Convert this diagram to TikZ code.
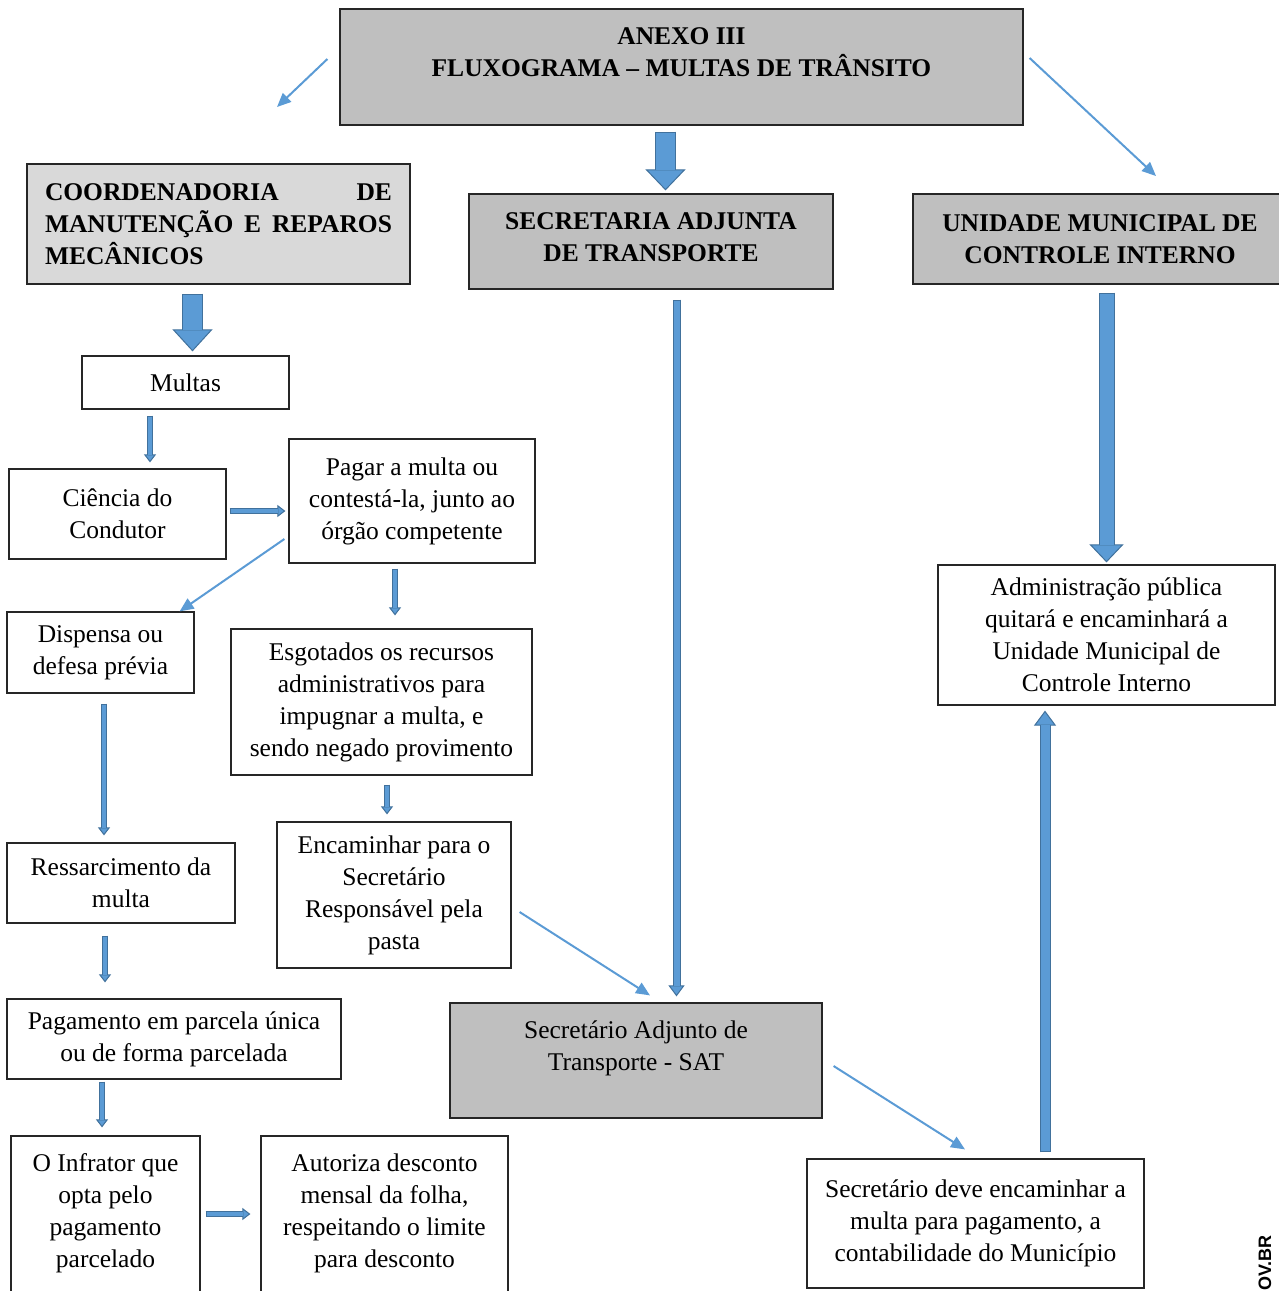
\documentclass[tikz,border=0pt]{standalone}
\usepackage{fontspec}
\setmainfont{Liberation Serif}
\newfontfamily\stampfont{Liberation Sans}
\usepackage{tikz}
\usetikzlibrary{arrows.meta, positioning, calc}
\definecolor{boxGray}{RGB}{191, 191, 191}
\definecolor{lightGray}{RGB}{217, 217, 217}
\definecolor{arrowFill}{RGB}{91, 155, 213}
\definecolor{arrowEdge}{RGB}{65, 113, 156}
\definecolor{lineBlue}{RGB}{91, 155, 213}
\newcommand{\bodyfont}{\fontsize{25.5pt}{32pt}\selectfont}

\begin{document}
\begin{tikzpicture}[x=1pt, y=-1pt,
    box/.style={draw=black!85, line width=1.2pt, fill=white, align=center, inner sep=0pt, font=\bodyfont},
    gray_box/.style={box, fill=boxGray, font=\bfseries\bodyfont},
    flow_arrow/.style n args={3}{draw=arrowEdge, line width=#1, -{Triangle[length=#3, width=#2, fill=arrowFill, color=arrowEdge, line width=1pt]}, postaction={draw=arrowFill, line width=#1-2pt, -, shorten >=#3-1pt, shorten <=1pt}},
    thin_arrow/.style={draw=lineBlue, line width=2pt, -{Triangle[length=14pt, width=12pt]}}
]
    \useasboundingbox (0, 0) rectangle (1279, 1291);

    % Header and the three departments
    \node[gray_box, minimum width=683, minimum height=116] (title) at (681.5, 67) {ANEXO III\\FLUXOGRAMA – MULTAS DE TRÂNSITO\\[-12pt]\strut};
    \node[gray_box, fill=lightGray, minimum width=383, minimum height=120, text width=347pt, align=left] (coord) at (218.5, 224) {\makebox[347pt][s]{COORDENADORIA\hfill DE}\\\makebox[347pt][s]{MANUTENÇÃO\hfill E\hfill REPAROS}\\MECÂNICOS};
    \node[gray_box, minimum width=364, minimum height=95] (secr) at (651, 241.5) {SECRETARIA ADJUNTA\\DE TRANSPORTE\\[-32pt]\strut};
    \node[gray_box, minimum width=374, minimum height=90] (unid) at (1100, 239) {UNIDADE MUNICIPAL DE\\CONTROLE INTERNO};

    % Left column (Coordenadoria)
    \node[box, minimum width=207, minimum height=53] (multas) at (185.5, 382.5) {Multas};
    \node[box, minimum width=217, minimum height=90] (ciencia) at (117.5, 514) {Ciência do\\Condutor};
    \node[box, minimum width=246, minimum height=124] (pagar) at (412, 501) {Pagar a multa ou\\contestá-la, junto ao\\órgão competente};
    \node[box, minimum width=187, minimum height=81] (dispensa) at (100.5, 652.5) {Dispensa ou\\defesa prévia};
    \node[box, minimum width=301, minimum height=146] (esgot) at (381.5, 702) {Esgotados os recursos\\administrativos para\\impugnar a multa, e\\sendo negado provimento};
    \node[box, minimum width=234, minimum height=146] (encam) at (394, 895) {Encaminhar para o\\Secretário\\Responsável pela\\pasta};
    \node[box, minimum width=228, minimum height=80] (ressarc) at (121, 883) {Ressarcimento da\\multa};
    \node[box, minimum width=334, minimum height=80] (pagam) at (174, 1039) {Pagamento em parcela única\\ou de forma parcelada};
    \node[box, minimum width=189, minimum height=181] (infrator) at (105.5, 1226.5) {O Infrator que\\opta pelo\\pagamento\\parcelado\\[-10pt]\strut};
    \node[box, minimum width=247, minimum height=181] (autoriza) at (384.5, 1226.5) {Autoriza desconto\\mensal da folha,\\respeitando o limite\\para desconto\\[-10pt]\strut};

    % Middle and right column
    \node[box, fill=boxGray, minimum width=372, minimum height=115] (sat) at (636, 1060.5) {Secretário Adjunto de\\Transporte - SAT\\[-12pt]\strut};
    \node[box, minimum width=337, minimum height=129] (secdeve) at (975.5, 1223.5) {Secretário deve encaminhar a\\multa para pagamento, a\\contabilidade do Município};
    \node[box, minimum width=337, minimum height=140] (admin) at (1106.5, 635) {Administração pública\\quitará e encaminhará a\\Unidade Municipal de\\Controle Interno};

    \node[rotate=90, font=\stampfont\bfseries\fontsize{18pt}{20pt}\selectfont] (stamp) at (1265, 1263) {OV.BR};

    % Free ends of the header arrows
    \coordinate (leftTip) at (277, 107);
    \coordinate (rightTip) at (1156, 176);

    % Block arrows
    \draw[flow_arrow={21pt}{40pt}{21pt}] ($(title.south)+(-16,6)$) -- ($(title.south |- secr.north)+(-16,-3)$);
    \draw[flow_arrow={21pt}{40pt}{22pt}] ($(multas.north |- coord.south)+(7,9)$) -- ($(multas.north)+(7,-4)$);
    \draw[flow_arrow={16pt}{34pt}{18pt}] ($(admin.north |- unid.south)+(0,8)$) -- ($(admin.north)+(0,-2)$);
    \draw[flow_arrow={11pt}{22pt}{15pt}] ($(secdeve.north)+(69.5,-6)$) -- ($(secdeve.north |- admin.south)+(69.5,5)$);
    \draw[flow_arrow={8pt}{16pt}{11pt}] ($(secr.south)+(25.5,10)$) -- ($(secr.south |- sat.north)+(25.5,-6)$);

    % Small block arrows along the left column
    \draw[flow_arrow={6pt}{12pt}{8pt}] ($(multas.south)+(-35.5,6)$) -- ($(multas.south |- ciencia.north)+(-35.5,-6)$);
    \draw[flow_arrow={6pt}{12pt}{8pt}] ($(ciencia.east)+(3,-3)$) -- ($(ciencia.east -| pagar.west)+(-3,-3)$);
    \draw[flow_arrow={6pt}{12pt}{8pt}] ($(pagar.south)+(-17,5)$) -- ($(pagar.south |- esgot.north)+(-17,-13)$);
    \draw[flow_arrow={6pt}{12pt}{8pt}] ($(esgot.south)+(5.5,9)$) -- ($(esgot.south |- encam.north)+(5.5,-7)$);
    \draw[flow_arrow={6pt}{12pt}{8pt}] ($(dispensa.south)+(3.5,10)$) -- ($(dispensa.south |- ressarc.north)+(3.5,-7)$);
    \draw[flow_arrow={6pt}{12pt}{8pt}] ($(ressarc.south)+(-16,12)$) -- ($(ressarc.south |- pagam.north)+(-16,-16)$);
    \draw[flow_arrow={6pt}{12pt}{8pt}] ($(pagam.south)+(-72,2)$) -- ($(pagam.south |- infrator.north)+(-72,-8)$);
    \draw[flow_arrow={6pt}{12pt}{8pt}] ($(infrator.east)+(5,-12.5)$) -- ($(infrator.east -| autoriza.west)+(-10,-12.5)$);

    % Thin connectors
    \draw[thin_arrow] ($(title.west)+(-12,-8)$) -- (leftTip);
    \draw[thin_arrow] ($(title.east)+(6,-9)$) -- (rightTip);
    \draw[thin_arrow] ($(pagar.west)+(-4,38)$) -- ($(dispensa.north east)+(-15,0)$);
    \draw[thin_arrow] ($(encam.east)+(8,17)$) -- ($(sat.north)+(14,-7)$);
    \draw[thin_arrow] ($(sat.east)+(11,5.5)$) -- ($(secdeve.north)+(-10.5,-9)$);
\end{tikzpicture}
\end{document}
